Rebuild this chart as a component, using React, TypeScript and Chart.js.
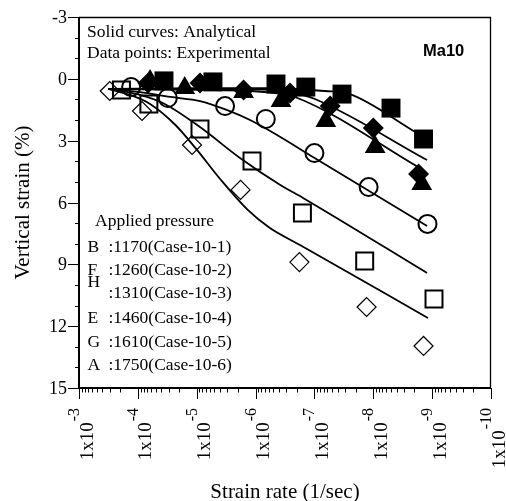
import React, { useEffect, useRef } from "react";
import { Chart, registerables } from "chart.js";

Chart.register(...registerables);

// ---------------- data ----------------
const caseSymbols = ["B", "F", "H", "E", "G", "A"];
const casePressures = ["1170", "1260", "1310", "1460", "1610", "1750"];
const caseNames = ["Case-10-1", "Case-10-2", "Case-10-3", "Case-10-4", "Case-10-5", "Case-10-6"];

// experimental points (strain rate 1/sec, vertical strain %)
const expRate1 = [3.6e-5, 5.3e-6, 4.5e-7, 1.4e-7, 3.4e-8, 5.0e-9, 1.4e-9];
const expStrain1 = [0.1, 0.15, 0.25, 0.4, 0.74, 1.42, 2.92];
const expRate2 = [6.7e-5, 8.8e-6, 1.6e-6, 2.6e-7, 5.4e-8, 1.0e-8, 1.7e-9];
const expStrain2 = [0.2, 0.2, 0.54, 0.69, 1.32, 2.39, 4.62];
const expRate3 = [6.2e-5, 1.6e-5, 1.6e-6, 3.7e-7, 6.4e-8, 9.3e-9, 1.5e-9];
const expStrain3 = [0.1, 0.45, 0.64, 1.08, 2.05, 3.31, 5.1];
const expRate4 = [1.3e-4, 3.1e-5, 3.3e-6, 6.7e-7, 1.0e-7, 1.2e-8, 1.2e-9];
const expStrain4 = [0.4, 0.93, 1.32, 1.95, 3.6, 5.25, 7.04];
const expRate5 = [1.9e-4, 6.5e-5, 8.8e-6, 1.15e-6, 1.6e-7, 1.4e-8, 9.3e-10];
const expStrain5 = [0.54, 1.22, 2.43, 3.99, 6.51, 8.84, 10.68];
const expRate6 = [3.0e-4, 8.5e-5, 1.2e-5, 1.8e-6, 1.8e-7, 1.3e-8, 1.4e-9];
const expStrain6 = [0.59, 1.56, 3.21, 5.39, 8.89, 11.07, 12.96];

// analytical curves
const curveRate1 = [3.2e-4, 8.8e-6, 3.8e-7, 1.2e-7, 6.6e-8, 2.5e-8, 1.8e-9];
const curveStrain1 = [0.49, 0.45, 0.45, 0.54, 0.59, 0.74, 2.63];
const curveRate2 = [3.2e-4, 8.8e-6, 5.7e-7, 2.14e-7, 9.8e-8, 1.22e-9];
const curveStrain2 = [0.49, 0.49, 0.54, 0.69, 0.98, 3.94];
const curveRate3 = [3.2e-4, 8.8e-6, 1.24e-6, 4.7e-7, 2.14e-7, 1.43e-9];
const curveStrain3 = [0.49, 0.54, 0.59, 0.69, 0.88, 4.42];
const curveRate4 = [3.2e-4, 9.2e-5, 2.8e-5, 8.8e-6, 3.1e-6, 1.24e-6, 3.8e-7, 1.06e-7, 1.22e-9];
const curveStrain4 = [0.49, 0.64, 0.88, 1.08, 1.51, 2.0, 2.82, 3.79, 7.14];
const curveRate5 = [3.2e-4, 9.2e-5, 3.5e-5, 8.8e-6, 1.84e-6, 3.8e-7, 1.56e-7, 1.22e-9];
const curveStrain5 = [0.49, 0.78, 1.22, 2.34, 3.84, 5.15, 5.78, 9.42];
const curveRate6 = [3.2e-4, 1.36e-4, 6.2e-5, 2.3e-5, 9.9e-6, 4.0e-6, 1.4e-6, 5.7e-7, 1.76e-7, 1.18e-9];
const curveStrain6 = [0.49, 0.78, 1.22, 2.24, 3.45, 4.86, 6.32, 7.24, 8.06, 11.6];

// axes
const xDecadeExponents = [-3, -4, -5, -6, -7, -8, -9, -10];
const yTickValues = [-3, 0, 3, 6, 9, 12, 15];

const SERIF = '"Liberation Serif", "Times New Roman", serif';
const SANS = '"Liberation Sans", Arial, sans-serif';

function pts(xs: number[], ys: number[]) {
  return xs.map((x, i) => ({ x, y: ys[i] }));
}

const decor = {
  id: "decor",
  afterDraw(chart: any) {
    const { ctx, chartArea: a } = chart;
    const xs = chart.scales.x;
    const ys = chart.scales.y;
    ctx.save();
    ctx.fillStyle = "#000";
    ctx.strokeStyle = "#000";

    // frame
    ctx.lineWidth = 1.3;
    ctx.beginPath();
    ctx.moveTo(a.left, a.top + 0.5);
    ctx.lineTo(a.right - 0.5, a.top + 0.5);
    ctx.lineTo(a.right - 0.5, a.bottom);
    ctx.stroke();
    ctx.lineWidth = 2;
    ctx.beginPath();
    ctx.moveTo(a.left, a.top);
    ctx.lineTo(a.left, a.bottom);
    ctx.lineTo(a.right, a.bottom);
    ctx.stroke();

    // x ticks
    ctx.lineWidth = 1;
    for (const e of xDecadeExponents) {
      const px = Math.round(xs.getPixelForValue(Math.pow(10, e))) + 0.5;
      ctx.beginPath();
      ctx.moveTo(px, a.bottom);
      ctx.lineTo(px, a.bottom + 11);
      ctx.stroke();
      if (e > -10) {
        for (let m = 2; m <= 9; m++) {
          const mp = Math.round(xs.getPixelForValue(m * Math.pow(10, e - 1))) + 0.5;
          ctx.beginPath();
          ctx.moveTo(mp, a.bottom);
          ctx.lineTo(mp, a.bottom + 4.5);
          ctx.stroke();
        }
      }
    }
    // y ticks
    for (let v = -3; v <= 15; v++) {
      const py = Math.round(ys.getPixelForValue(v)) + 0.5;
      const len = v % 3 === 0 ? 11 : 4;
      ctx.beginPath();
      ctx.moveTo(a.left, py);
      ctx.lineTo(a.left - len, py);
      ctx.stroke();
    }

    // y tick labels
    ctx.font = `18px ${SERIF}`;
    ctx.textAlign = "right";
    ctx.textBaseline = "alphabetic";
    for (const v of yTickValues) {
      const py = ys.getPixelForValue(v);
      ctx.fillText(String(v), a.left - 12, py + 6);
    }

    // x tick labels (rotated, with superscript exponent)
    for (const e of xDecadeExponents) {
      const px = xs.getPixelForValue(Math.pow(10, e));
      ctx.save();
      ctx.translate(px + 13.5, a.bottom + 20);
      ctx.rotate(-Math.PI / 2);
      ctx.textAlign = "right";
      ctx.font = `16px ${SERIF}`;
      const expText = String(e);
      const ew = ctx.measureText(expText).width;
      ctx.fillText(expText, 0, -13.5);
      ctx.font = `19px ${SERIF}`;
      ctx.fillText("1x10", -ew - 1, 0);
      ctx.restore();
    }

    // axis titles
    ctx.font = `21px ${SERIF}`;
    ctx.textAlign = "center";
    ctx.fillText("Strain rate (1/sec)", (a.left + a.right) / 2, 498);
    ctx.save();
    ctx.translate(29, (a.top + a.bottom) / 2);
    ctx.rotate(-Math.PI / 2);
    ctx.fillText("Vertical strain (%)", 0, 0);
    ctx.restore();

    // annotations
    ctx.textAlign = "left";
    ctx.font = `17.5px ${SERIF}`;
    ctx.fillText("Solid curves: Analytical", 87, 37);
    ctx.fillText("Data points: Experimental", 87, 57.5);
    ctx.font = `bold 16.5px ${SANS}`;
    ctx.fillText("Ma10", 423, 56);

    // legend text
    ctx.font = `17.5px ${SERIF}`;
    ctx.fillText("Applied pressure", 95, 226);
    const textBase = [252, 275, 298, 323, 347, 370];
    const symBase = [252, 275, 287, 323, 347, 370];
    for (let i = 0; i < caseSymbols.length; i++) {
      ctx.fillText(caseSymbols[i], 87.5, symBase[i]);
      ctx.fillText(`:${casePressures[i]}(${caseNames[i]})`, 108.5, textBase[i]);
    }
    ctx.restore();
  },
};

export default function App() {
  const ref = useRef<HTMLCanvasElement | null>(null);
  useEffect(() => {
    if (!ref.current) return;
    const black = "#000";
    const none = "rgba(0,0,0,0)";
    const markerSets = [
      { data: pts(expRate1, expStrain1), pointStyle: "rect", pointRadius: 13.4, pointBackgroundColor: black, pointBorderColor: black, pointBorderWidth: 0 },
      { data: pts(expRate2, expStrain2), pointStyle: "rectRot", pointRadius: 10.5, pointBackgroundColor: black, pointBorderColor: black, pointBorderWidth: 0 },
      { data: pts(expRate3, expStrain3), pointStyle: "triangle", pointRadius: 12, pointBackgroundColor: black, pointBorderColor: black, pointBorderWidth: 0 },
      { data: pts(expRate4, expStrain4), pointStyle: "circle", pointRadius: 9, pointBackgroundColor: none, pointBorderColor: black, pointBorderWidth: 2 },
      { data: pts(expRate5, expStrain5), pointStyle: "rect", pointRadius: 12, pointBackgroundColor: none, pointBorderColor: black, pointBorderWidth: 2 },
      { data: pts(expRate6, expStrain6), pointStyle: "rectRot", pointRadius: 9.5, pointBackgroundColor: none, pointBorderColor: black, pointBorderWidth: 1.2 },
    ].map((d) => ({ ...d, showLine: false, order: 0, pointHoverRadius: d.pointRadius }));
    const curves = [
      pts(curveRate1, curveStrain1),
      pts(curveRate2, curveStrain2),
      pts(curveRate3, curveStrain3),
      pts(curveRate4, curveStrain4),
      pts(curveRate5, curveStrain5),
      pts(curveRate6, curveStrain6),
    ].map((data) => ({
      data,
      showLine: true,
      borderColor: black,
      borderWidth: 1.8,
      pointRadius: 0,
      pointHoverRadius: 0,
      cubicInterpolationMode: "monotone",
      fill: false,
      order: 1,
    }));

    const chart = new Chart(ref.current, {
      type: "scatter",
      data: { datasets: [...markerSets, ...curves] as any },
      options: {
        animation: false,
        responsive: false,
        events: [],
        layout: { padding: { top: 17, right: 15, left: 0, bottom: 0 } },
        plugins: { legend: { display: false }, tooltip: { enabled: false } },
        scales: {
          x: {
            type: "logarithmic",
            min: 1e-10,
            max: 1e-3,
            reverse: true,
            ticks: { display: false },
            grid: { display: false },
            border: { display: false },
            afterFit: (s: any) => {
              s.height = 113;
            },
          },
          y: {
            type: "linear",
            min: -3,
            max: 15,
            reverse: true,
            ticks: { display: false },
            grid: { display: false },
            border: { display: false },
            afterFit: (s: any) => {
              s.width = 79;
            },
          },
        },
      } as any,
      plugins: [decor],
    });
    return () => chart.destroy();
  }, []);

  return (
    <div style={{ position: "fixed", left: 0, top: 0, width: 506, height: 501, background: "#fff" }}>
      <canvas ref={ref} width={506} height={501} style={{ display: "block", width: 506, height: 501 }} />
    </div>
  );
}
